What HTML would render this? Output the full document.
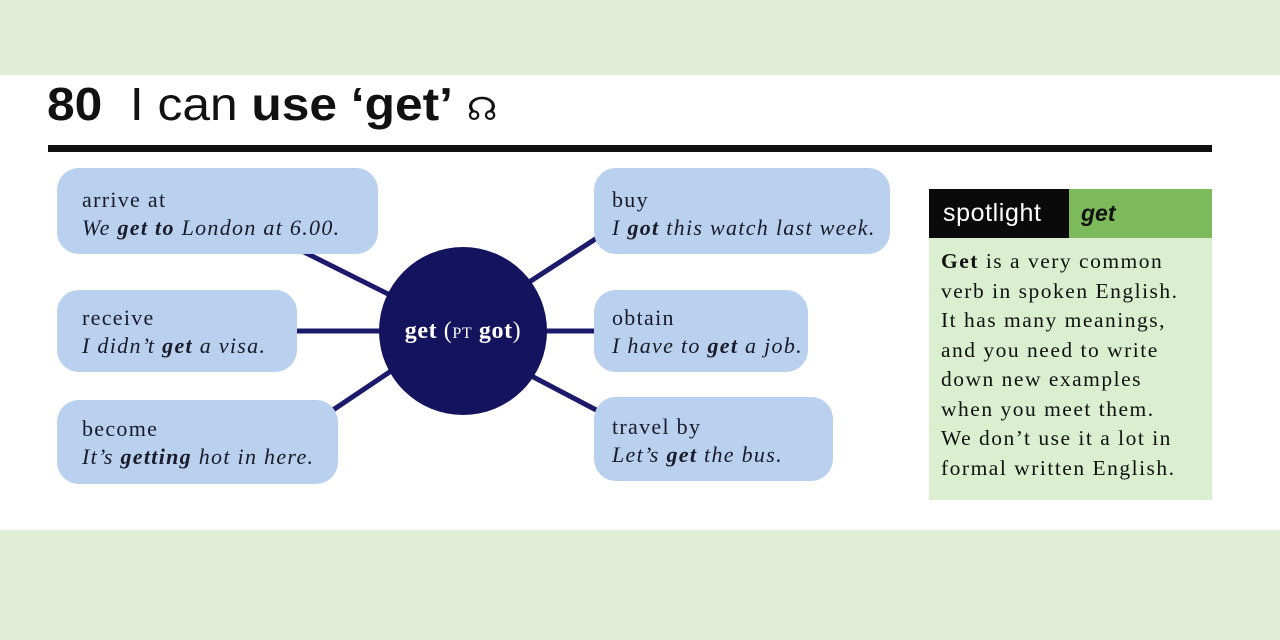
<!DOCTYPE html>
<html><head><style>
body{margin:0;width:1280px;height:640px;background:#e1edd7;position:relative;overflow:hidden;font-family:"Liberation Serif",serif}
.main{position:absolute;left:0;top:75px;width:1280px;height:455px;background:#fff}
.t{position:absolute;left:47px;top:77px;font-family:"Liberation Sans",sans-serif;font-size:46px;color:#111;white-space:nowrap;transform:scaleX(1.08);transform-origin:left top}
.rule{position:absolute;left:48px;top:145px;width:1164px;height:7px;background:#111}
.b{position:absolute;background:#b9d0ee;border-radius:22px;box-sizing:border-box;padding:18px 0 0 25px;font-size:22px;letter-spacing:1.3px;line-height:28px;color:#1a1a2a;white-space:nowrap}
.b i{display:block}
svg{position:absolute;left:0;top:0}
.sp{position:absolute;left:929px;top:189px;width:283px;height:311px;background:#d9efd0}
.sh{position:absolute;left:0;top:0;width:283px;height:49px;background:#7cba5c}
.sk{position:absolute;left:0;top:0;width:140px;height:49px;background:#0a0a0a;color:#fff;font-family:"Liberation Sans",sans-serif;font-size:25px;letter-spacing:0.6px;line-height:49px;padding-left:14px;box-sizing:border-box}
.sg{position:absolute;left:152px;top:0;font-family:"Liberation Sans",sans-serif;font-weight:bold;font-style:italic;font-size:23px;line-height:49px;color:#111}
.st{position:absolute;left:12px;top:58px;font-size:21.5px;letter-spacing:1.5px;line-height:29.5px;color:#111;white-space:nowrap}
</style></head><body>
<div class="main"></div>
<div class="t"><b>80</b>&nbsp; I can <b>use ‘get’</b> <span style="font-size:32px">&#x260A;</span></div>
<div class="rule"></div>
<svg width="1280" height="640">
<g stroke="#1b1a6b" stroke-width="5">
<line x1="300" y1="250" x2="400" y2="300"/>
<line x1="290" y1="331" x2="400" y2="331"/>
<line x1="330" y1="412" x2="400" y2="365"/>
<line x1="600" y1="236" x2="520" y2="288"/>
<line x1="520" y1="331" x2="600" y2="331"/>
<line x1="600" y1="412" x2="520" y2="370"/>
</g>
<circle cx="463" cy="331" r="84" fill="#14135e"/>
<text x="463" y="338" text-anchor="middle" fill="#fff" font-family="Liberation Serif" font-size="24" letter-spacing="0.6"><tspan font-weight="bold">get</tspan> (<tspan font-size="16">PT</tspan> <tspan font-weight="bold">got</tspan>)</text>
</svg>
<div class="b" style="left:57px;top:168px;width:321px;height:86px">arrive at<i>We <b>get to</b> London at 6.00.</i></div>
<div class="b" style="left:57px;top:290px;width:240px;height:82px;padding-top:14px">receive<i>I didn’t <b>get</b> a visa.</i></div>
<div class="b" style="left:57px;top:400px;width:281px;height:84px;padding-top:15px">become<i>It’s <b>getting</b> hot in here.</i></div>
<div class="b" style="left:594px;top:168px;width:296px;height:86px;padding-left:18px">buy<i>I <b>got</b> this watch last week.</i></div>
<div class="b" style="left:594px;top:290px;width:214px;height:82px;padding-top:14px;padding-left:18px">obtain<i>I have to <b>get</b> a job.</i></div>
<div class="b" style="left:594px;top:397px;width:239px;height:84px;padding-top:16px;padding-left:18px">travel by<i>Let’s <b>get</b> the bus.</i></div>
<div class="sp"><div class="sh"></div><div class="sk">spotlight</div><div class="sg">get</div>
<div class="st"><b>Get</b> is a very common<br>verb in spoken English.<br>It has many meanings,<br>and you need to write<br>down new examples<br>when you meet them.<br>We don’t use it a lot in<br>formal written English.</div></div>
</body></html>
